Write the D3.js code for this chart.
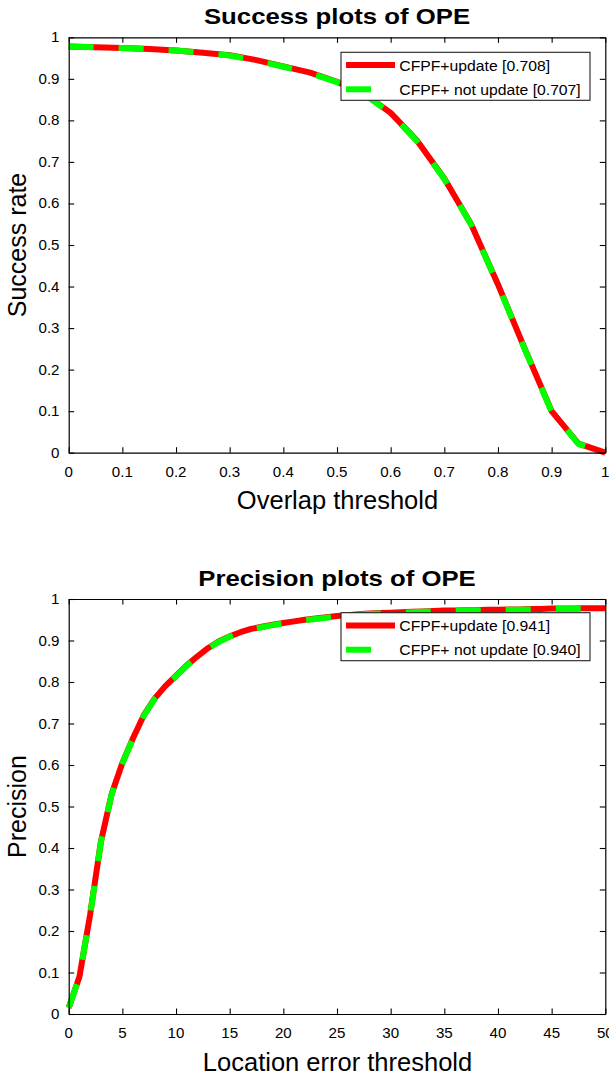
<!DOCTYPE html>
<html><head><meta charset="utf-8">
<script src="https://cdn.jsdelivr.net/npm/d3@7"></script>
<style>
html,body{margin:0;padding:0;background:#fff;}
svg{display:block;}
text{font-family:"Liberation Sans",Arial,Helvetica,sans-serif;fill:#000;}
</style>
</head><body>
<script>
// ---- Data ----
const overlapThresholds = [0,0.05,0.1,0.15,0.2,0.25,0.3,0.35,0.4,0.45,0.5,0.55,0.6,0.65,0.7,0.75,0.8,0.85,0.9,0.95,1];
const successUpdate    = [0.978,0.976,0.974,0.972,0.968,0.963,0.957,0.945,0.930,0.915,0.893,0.865,0.818,0.750,0.660,0.550,0.405,0.250,0.100,0.022,0.000];
const successNotUpdate = [0.978,0.976,0.974,0.972,0.968,0.963,0.956,0.944,0.929,0.914,0.892,0.864,0.817,0.749,0.659,0.549,0.404,0.249,0.099,0.021,0.000];

const errorThresholds = [0,1,2,3,4,5,6,7,8,9,10,11,12,13,14,15,16,17,18,19,20,21,22,23,24,25,26,27,28,29,30,31,32,33,34,35,36,37,38,39,40,41,42,43,44,45,46,47,48,49,50];
const precisionUpdate = [0.015,0.090,0.240,0.415,0.530,0.605,0.665,0.720,0.760,0.790,0.815,0.840,0.862,0.882,0.898,0.910,0.920,0.928,0.933,0.938,0.942,0.946,0.950,0.953,0.956,0.959,0.961,0.963,0.965,0.966,0.967,0.968,0.969,0.970,0.971,0.972,0.972,0.973,0.973,0.974,0.974,0.975,0.975,0.976,0.976,0.977,0.977,0.977,0.978,0.978,0.978];
const precisionNotUpdate = [0.015,0.089,0.239,0.414,0.529,0.604,0.664,0.719,0.759,0.789,0.814,0.839,0.861,0.881,0.897,0.909,0.919,0.927,0.932,0.937,0.941,0.945,0.949,0.952,0.955,0.958,0.960,0.962,0.964,0.965,0.966,0.967,0.968,0.969,0.970,0.971,0.971,0.972,0.972,0.973,0.973,0.974,0.974,0.975,0.975,0.976,0.976,0.976,0.977,0.977,0.977];

const successXTicks = [0,0.1,0.2,0.3,0.4,0.5,0.6,0.7,0.8,0.9,1];
const precisionXTicks = [0,5,10,15,20,25,30,35,40,45,50];
const yTicks = [0,0.1,0.2,0.3,0.4,0.5,0.6,0.7,0.8,0.9,1];

const seriesNames = ["CFPF+update", "CFPF+ not update"];
const successScores = ["0.708","0.707"];
const precisionScores = ["0.941","0.940"];

// ---- Drawing ----
const W = 609, H = 1074;
const svg = d3.select("body").append("svg").attr("width", W).attr("height", H);
const SX = 1.1; // horizontal stretch of the original rendering

function txt(parent, x, y, s, size, anchor, weight, sx) {
  return parent.append("text")
    .attr("transform", `translate(${x},${y}) scale(${sx || SX},1)`)
    .attr("text-anchor", anchor || "start")
    .attr("font-size", size)
    .attr("font-weight", weight || "normal")
    .text(s);
}

function panel(cfg) {
  const x = d3.scaleLinear().domain(cfg.xDomain).range([68.7, 605.3]);
  const y = d3.scaleLinear().domain([0, 1]).range([cfg.bottom, cfg.top]);
  const g = svg.append("g");
  const clipId = "clip" + cfg.id;
  svg.append("clipPath").attr("id", clipId).append("rect")
    .attr("x", 66).attr("y", cfg.top - 6).attr("width", 546).attr("height", cfg.bottom - cfg.top + 12);

  const line = d3.line().x((d, i) => x(cfg.xs[i])).y(d => y(d));
  const lg = g.append("g").attr("clip-path", `url(#${clipId})`);
  lg.append("path").datum(cfg.s1).attr("d", line)
    .attr("fill", "none").attr("stroke", "#ff0000").attr("stroke-width", 6).attr("stroke-linejoin", "round");
  lg.append("path").datum(cfg.s2).attr("d", line)
    .attr("fill", "none").attr("stroke", "#00ff00").attr("stroke-width", 6).attr("stroke-dasharray", "25,25");

  // axes (ticks inward, box)
  const tl = 5.5;
  const axB = d3.axisBottom(x).tickValues(cfg.xTicks).tickSize(tl).tickFormat("");
  const axT = d3.axisTop(x).tickValues(cfg.xTicks).tickSize(tl).tickFormat("");
  const axL = d3.axisLeft(y).tickValues(yTicks).tickSize(tl).tickFormat("");
  const axR = d3.axisRight(y).tickValues(yTicks).tickSize(tl).tickFormat("");
  g.append("g").attr("transform", `translate(0,${cfg.bottom})`).call(axB.tickSizeInner(-tl).tickSizeOuter(0));
  g.append("g").attr("transform", `translate(0,${cfg.top})`).call(axT.tickSizeInner(-tl).tickSizeOuter(0));
  g.append("g").attr("transform", `translate(68.7,0)`).call(axL.tickSizeInner(-tl).tickSizeOuter(0));
  g.append("g").attr("transform", `translate(605.3,0)`).call(axR.tickSizeInner(-tl).tickSizeOuter(0));
  g.selectAll(".domain").attr("stroke", "#000").attr("stroke-width", 1.2);
  g.selectAll(".tick line").attr("stroke", "#000").attr("stroke-width", 1.1);

  // tick labels
  cfg.xTicks.forEach(v => txt(g, x(v), cfg.bottom + 24, String(v), 14, "middle", "normal", 1.08));
  yTicks.forEach(v => txt(g, 59.5, y(v) + 5, String(v), 14, "end", "normal", 1.08));

  // title & labels
  txt(g, 337, cfg.top - 13.5, cfg.title, 23, "middle", "bold", 1.12);
  txt(g, 337.5, cfg.bottom + 56.5, cfg.xLabel, 25.5, "middle", "normal", 1.0);
  g.append("text").attr("transform", `translate(26,${(cfg.top + cfg.bottom) / 2}) rotate(-90)`)
    .attr("text-anchor", "middle").attr("font-size", 25).text(cfg.yLabel);

  // legend
  const lx = 341, ly = cfg.top + cfg.legendOffset;
  const leg = g.append("g");
  leg.append("rect").attr("x", lx).attr("y", ly).attr("width", 249).attr("height", 48)
    .attr("fill", "#fff").attr("stroke", "#222").attr("stroke-width", 1.1);
  const rows = [
    {c: "#ff0000", dash: null, label: `${seriesNames[0]} [${cfg.scores[0]}]`},
    {c: "#00ff00", dash: "25,25", label: `${seriesNames[1]} [${cfg.scores[1]}]`}
  ];
  rows.forEach((r, i) => {
    const yy = ly + 12.7 + i * 24.3;
    const p = leg.append("line").attr("x1", lx + 5).attr("x2", lx + 54).attr("y1", yy).attr("y2", yy)
      .attr("stroke", r.c).attr("stroke-width", 6);
    if (r.dash) p.attr("stroke-dasharray", r.dash);
    txt(leg, lx + 58.3, yy + 5.5, r.label, 15, "start", "normal", 1.05);
  });
}

panel({
  id: 1, top: 37.3, bottom: 452.7, xDomain: [0, 1], xs: overlapThresholds,
  s1: successUpdate, s2: successNotUpdate, xTicks: successXTicks,
  title: "Success plots of OPE", xLabel: "Overlap threshold", yLabel: "Success rate",
  scores: successScores, legendOffset: 15
});
panel({
  id: 2, top: 599, bottom: 1014, xDomain: [0, 50], xs: errorThresholds,
  s1: precisionUpdate, s2: precisionNotUpdate, xTicks: precisionXTicks,
  title: "Precision plots of OPE", xLabel: "Location error threshold", yLabel: "Precision",
  scores: precisionScores, legendOffset: 13.7
});
</script>
</body></html>
